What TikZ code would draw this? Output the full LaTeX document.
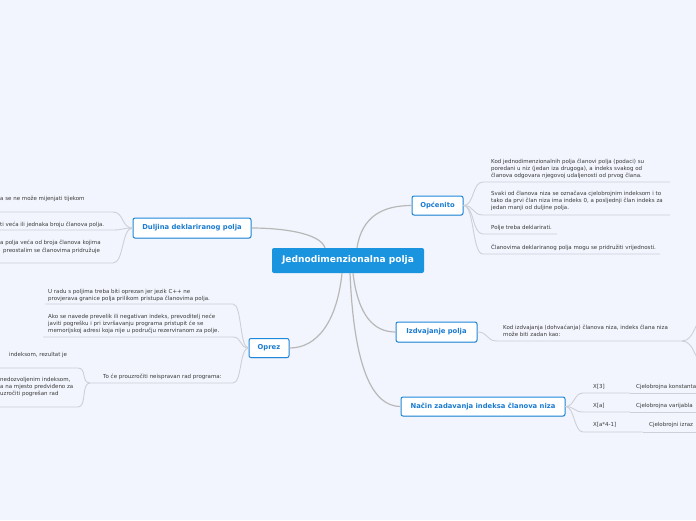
\documentclass[tikz,border=0pt]{standalone}
\usepackage{fontspec}
\setmainfont{DejaVu Sans}
\usetikzlibrary{shadows}
\definecolor{bg}{HTML}{F2F5FD}
\definecolor{rootblue}{HTML}{1B94E0}
\definecolor{boxblue}{HTML}{1E88DC}
\definecolor{txtblue}{HTML}{1A7BD0}
\definecolor{conn}{HTML}{B8B8B8}
\definecolor{uline}{HTML}{CDD0D6}
\definecolor{txt}{HTML}{3A3A3A}
\tikzset{
  rootbox/.style={fill=rootblue, rounded corners=2pt, text=white, inner sep=0pt,
    font=\fontsize{9.1}{10}\selectfont\bfseries, minimum width=152pt, minimum height=25pt},
  topicbox/.style={draw=boxblue, line width=1pt, fill=white, rounded corners=2pt, text=txtblue,
    inner sep=0pt, font=\fontsize{6.8}{8}\selectfont\bfseries,
    drop shadow={shadow xshift=0.4pt, shadow yshift=-0.8pt, opacity=0.25}},
  leaf/.style={text=txt, inner sep=0pt, align=left, anchor=base west,
    font=\fontsize{5.5}{7}\selectfont},
  mainconn/.style={draw=conn, line width=1.2pt},
  subconn/.style={draw=uline, line width=0.9pt},
}
\begin{document}
\begin{tikzpicture}[x=1pt, y=-1pt]
\useasboundingbox (0,0) rectangle (696,520);
\fill[bg] (0,0) rectangle (696,520);
\clip (0,0) rectangle (696,520);

% main nodes
\node[rootbox] (root) at (348,260.5) {Jednodimenzionalna polja};
\node[topicbox, minimum width=51pt, minimum height=19pt] (op) at (437.5,205.5) {Općenito};
\node[topicbox, minimum width=118pt, minimum height=20pt] (dz) at (192,228) {Duljina deklariranog polja};
\node[topicbox, minimum width=40pt, minimum height=19pt] (oz) at (269,348) {Oprez};
\node[topicbox, minimum width=81pt, minimum height=20pt] (iz) at (436.5,332) {Izdvajanje polja};
\node[topicbox, minimum width=164pt, minimum height=19pt] (nz) at (483,406.5) {Način zadavanja indeksa članova niza};

% main connectors
\draw[mainconn] ([xshift=9pt]root.north) .. controls +(5,-32) and +(-28,0) .. (op.west);
\draw[mainconn] ([xshift=-23pt]root.north) .. controls +(-5,-15) and +(30,0) .. (dz.east);
\draw[mainconn] ([xshift=-6pt]root.south) .. controls +(-5,48) and +(28,0) .. (oz.east);
\draw[mainconn] ([xshift=5pt]root.south) .. controls +(5,42) and +(-22,0) .. (iz.west);
\draw[mainconn] ([xshift=2pt]root.south) .. controls +(4,95) and +(-28,0) .. (nz.west);

% Općenito children
\coordinate (o1s) at (483,182); \coordinate (o1e) at (670,182);
\coordinate (o2s) at (483,215); \coordinate (o2e) at (670,215);
\coordinate (o3s) at (483,234); \coordinate (o3e) at (557,234);
\coordinate (o4s) at (483,254); \coordinate (o4e) at (660,254);
\foreach \c in {o1,o2,o3,o4}{
  \draw[subconn] (op.east) .. controls +(11,0) and +(-11,0) .. (\c s) -- (\c e);
}
\node[leaf] (o1) at (491,177.5) {Kod jednodimenzionalnih polja članovi polja (podaci) su\\poredani u niz (jedan iza drugoga), a indeks svakog od\\članova odgovara njegovoj udaljenosti od prvog člana.};
\node[leaf] (o2) at (491,209.5) {Svaki od članova niza se označava cjelobrojnim indeksom i to\\tako da prvi član niza ima indeks 0, a posljednji član indeks za\\jedan manji od duljine polja.};
\node[leaf] (o3) at (491,229.5) {Polje treba deklarirati.};
\node[leaf] (o4) at (491,249.5) {Članovima deklariranog polja mogu se pridružiti vrijednosti.};

% Duljina children
\coordinate (d1s) at (-5,212); \coordinate (d1e) at (113,212);
\coordinate (d2s) at (-5,230); \coordinate (d2e) at (113,230);
\coordinate (d3s) at (-5,263); \coordinate (d3e) at (113,263);
\foreach \c in {d1,d2,d3}{
  \draw[subconn] (dz.west) .. controls +(-11,0) and +(11,0) .. (\c e) -- (\c s);
}
\node[leaf] (d1) at (0,200.5) {a se ne može mijenjati tijekom};
\node[leaf] (d2) at (0,226.5) {ti veća ili jednaka broju članova polja.};
\node[leaf] (d3a) at (0,244.5) {a polja veća od broja članova kojima};
\node[leaf] (d3b) at (3,252.5) {preostalim se članovima pridružuje};

% Oprez children
\coordinate (p1s) at (45,304); \coordinate (p1e) at (233,304);
\coordinate (p2s) at (43,337); \coordinate (p2e) at (233,337);
\coordinate (p3s) at (90,383); \coordinate (p3e) at (233,383);
\foreach \c in {p1,p2,p3}{
  \draw[subconn] (oz.west) .. controls +(-9,0) and +(9,0) .. (\c e) -- (\c s);
}
\node[leaf] (p1) at (48,300.5) {U radu s poljima treba biti oprezan jer jezik C++ ne\\provjerava granice polja prilikom pristupa članovima polja.};
\node[leaf] (p2) at (48,332.5) {Ako se navede prevelik ili negativan indeks, prevoditelj neće\\javiti pogrešku i pri izvršavanju programa pristupit će se\\memorijskoj adresi koja nije u području rezerviranom za polje.};
\node[leaf] (p3) at (103,378.5) {To će prouzročiti neispravan rad programa:};

% children of "To će ..."
\coordinate (qas) at (-5,368); \coordinate (qae) at (78,368);
\coordinate (qbs) at (-5,407); \coordinate (qbe) at (78,407);
\draw[subconn] (p3s) .. controls +(-9,0) and +(9,0) .. (qae) -- (qas);
\draw[subconn] (p3s) .. controls +(-9,0) and +(9,0) .. (qbe) -- (qbs);
\node[leaf] (qa) at (9,356.5) {indeksom, rezultat je};
\node[leaf] (qb) at (0,395.5) {nedozvoljenim indeksom,\\a na mjesto predviđeno za\\uzročiti pogrešan rad};

% Izdvajanje child
\coordinate (i1s) at (497,341); \coordinate (i1e) at (682,341);
\draw[subconn] (iz.east) .. controls +(11,0) and +(-11,0) .. (i1s) -- (i1e);
\node[leaf] (i1) at (503,336.5) {Kod izdvajanja (dohvaćanja) članova niza, indeks člana niza\\može biti zadan kao:};
\coordinate (iu) at (704,318); \coordinate (id) at (704,364);
\draw[subconn] (i1e) .. controls +(13,0) and +(-9,0) .. (iu);
\draw[subconn] (i1e) .. controls +(13,0) and +(-9,0) .. (id);

% Način children
\coordinate (n1s) at (583,393); \coordinate (n1m) at (630,393); \coordinate (n1e) at (700,393);
\coordinate (n2s) at (583,412); \coordinate (n2m) at (630,412); \coordinate (n2e) at (700,412);
\coordinate (n3s) at (583,432); \coordinate (n3m) at (643,432); \coordinate (n3e) at (700,432);
\foreach \c in {n1,n2,n3}{
  \draw[subconn] (nz.east) .. controls +(9,0) and +(-9,0) .. (\c s) -- (\c m);
  \draw[subconn] (\c m) -- (\c e);
}
\node[leaf] (n1) at (593,388.5) {X[3]};
\node[leaf] (n1c) at (636,388.5) {Cjelobrojna konstanta};
\node[leaf] (n2) at (593,407.5) {X[a]};
\node[leaf] (n2c) at (636,407.5) {Cjelobrojna varijabla};
\node[leaf] (n3) at (593,426.5) {X[a*4-1]};
\node[leaf] (n3c) at (649,426.5) {Cjelobrojni izraz};
\end{tikzpicture}
\end{document}
